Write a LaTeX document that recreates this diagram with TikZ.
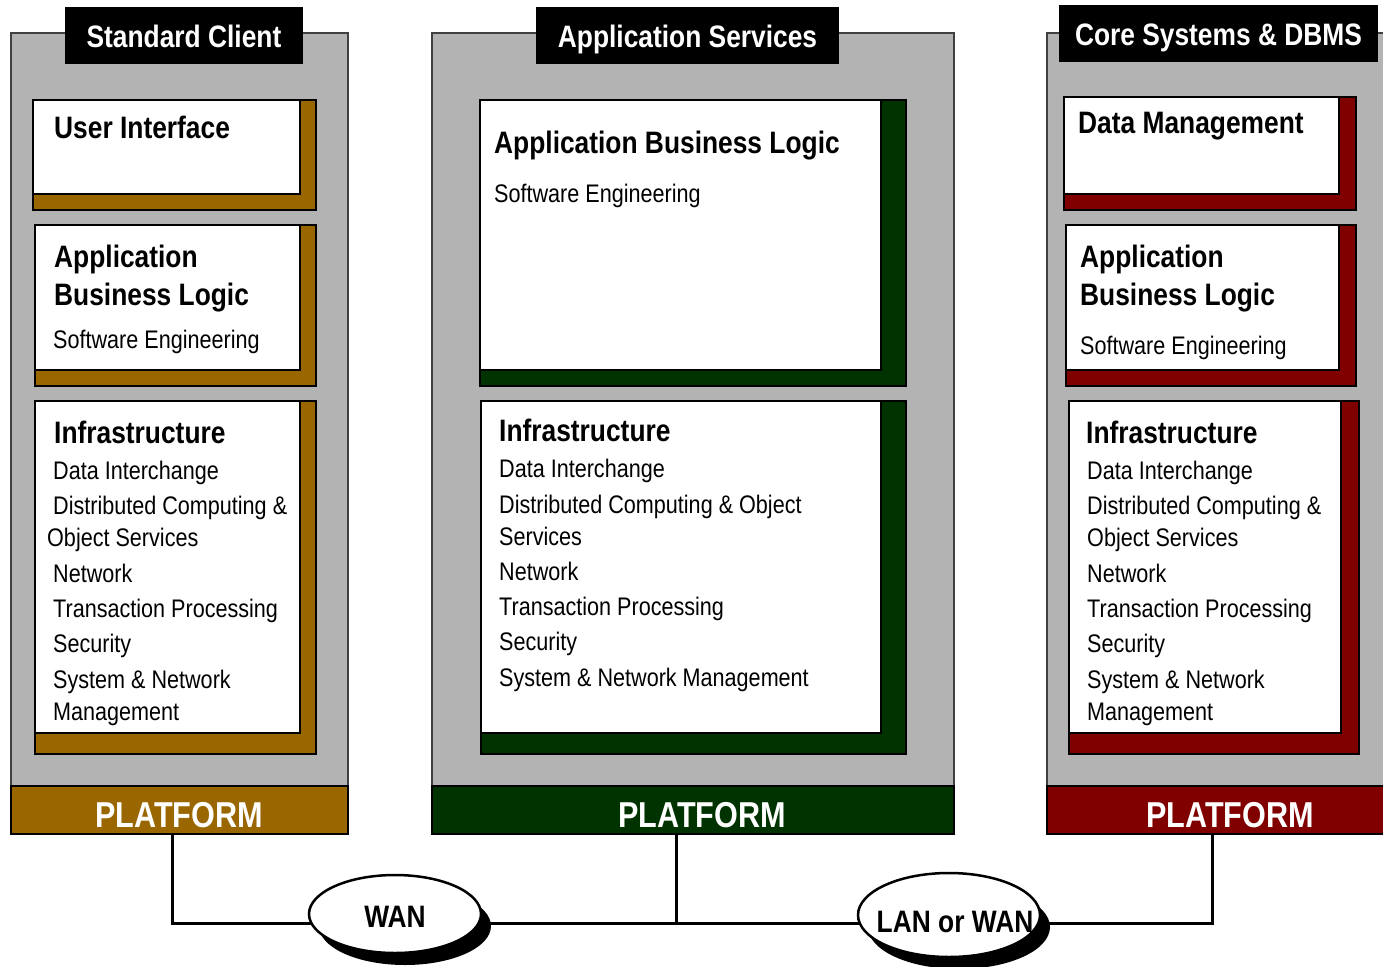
\documentclass[tikz,border=0pt]{standalone}
\usepackage{fontspec}
\setmainfont{Liberation Sans}[FakeStretch=0.85]
\usetikzlibrary{shapes.geometric,shadows}
\pgfdeclarelayer{bg}
\pgfsetlayers{bg,main}
\definecolor{panelgray}{HTML}{B3B3B3}
\definecolor{cbrown}{HTML}{996600}
\definecolor{cgreen}{HTML}{003300}
\definecolor{cred}{HTML}{800000}
\newcommand\hdfont{\fontsize{31}{31}\selectfont\bfseries}
\newcommand\bdfont{\fontsize{25.4}{25.4}\selectfont}
\newcommand\pffont{\fontsize{36}{36}\selectfont\bfseries}
\begin{document}
\begin{tikzpicture}[x=1pt,y=-1pt,
  rect/.style={rectangle,anchor=north west,inner sep=0pt,outer sep=0pt},
  panel/.style={rect,fill=panelgray,draw=black!75,line width=1.5pt},
  header/.style={rect,fill=black},
  shbox/.style={rect,draw=black,line width=2.5pt,fill=#1},
  wbox/.style={rect,draw=black,line width=2pt,fill=white},
  platform/.style={rect,draw=black,line width=2.5pt,fill=#1},
  hd/.style={anchor=base west,inner sep=0pt,font=\hdfont},
  bd/.style={anchor=base west,inner sep=0pt,font=\bdfont},
  title/.style={anchor=base,inner sep=0pt,font=\hdfont,text=white},
  pftext/.style={anchor=base,inner sep=0pt,font=\pffont,text=white},
  cloudtext/.style={anchor=base,inner sep=0pt,font=\hdfont},
  net/.style={line width=3pt},
  cloud/.style={ellipse,draw=black,line width=2.5pt,fill=white,inner sep=0pt,
    drop shadow={shadow xshift=10pt,shadow yshift=-12pt,fill=black,opacity=1}}
]
\useasboundingbox (0,0) rectangle (1383,966);
\clip (0,0) rectangle (1383,966);

% ---------- panels ----------
\node[panel,minimum width=337pt,minimum height=753pt] (pan1) at (11,33) {};
\node[panel,minimum width=522pt,minimum height=753pt] (pan2) at (432,33) {};
\node[panel,minimum width=345pt,minimum height=753pt] (pan3) at (1047,33) {};

% ---------- headers ----------
\node[header,minimum width=238pt,minimum height=57pt] (h1) at (65,7) {};
\node[header,minimum width=303pt,minimum height=57pt] (h2) at (536,7) {};
\node[header,minimum width=319pt,minimum height=57pt] (h3) at (1059,5) {};
\node[title] (ht1) at (184,48) {Standard Client};
\node[title] (ht2) at (687.5,48) {Application Services};
\node[title] (ht3) at (1218.5,46) {Core Systems \& DBMS};

% ---------- left column ----------
\node[shbox=cbrown,minimum width=283pt,minimum height=110pt] (l1s) at (33,100) {};
\node[wbox,minimum width=267pt,minimum height=94pt] (l1w) at (33,100) {};
\node[shbox=cbrown,minimum width=281pt,minimum height=161pt] (l2s) at (35,225) {};
\node[wbox,minimum width=265pt,minimum height=145pt] (l2w) at (35,225) {};
\node[shbox=cbrown,minimum width=281pt,minimum height=353pt] (l3s) at (35,401) {};
\node[wbox,minimum width=265pt,minimum height=332pt] (l3w) at (35,401) {};

\node[hd] (la1) at (54,138) {User Interface};
\node[hd] (la2) at (54,267) {Application};
\node[hd] (la3) at (54,305) {Business Logic};
\node[bd] (la4) at (53,348) {Software Engineering};
\node[hd] (la5) at (54,443) {Infrastructure};
\node[bd] (la6) at (53,479) {Data Interchange};
\node[bd] (la7) at (53,514) {Distributed Computing \&};
\node[bd] (la8) at (47,546) {Object Services};
\node[bd] (la9) at (53,582) {Network};
\node[bd] (la10) at (53,617) {Transaction Processing};
\node[bd] (la11) at (53,652) {Security};
\node[bd] (la12) at (53,688) {System \& Network};
\node[bd] (la13) at (53,720) {Management};

% ---------- middle column ----------
\node[shbox=cgreen,minimum width=426pt,minimum height=286pt] (m1s) at (480,100) {};
\node[wbox,minimum width=401pt,minimum height=270pt] (m1w) at (480,100) {};
\node[shbox=cgreen,minimum width=425pt,minimum height=353pt] (m2s) at (481,401) {};
\node[wbox,minimum width=400pt,minimum height=332pt] (m2w) at (481,401) {};

\node[hd] (ma1) at (494,153) {Application Business Logic};
\node[bd] (ma2) at (494,202) {Software Engineering};
\node[hd] (ma3) at (499,441) {Infrastructure};
\node[bd] (ma4) at (499,477) {Data Interchange};
\node[bd] (ma5) at (499,513) {Distributed Computing \& Object};
\node[bd] (ma6) at (499,545) {Services};
\node[bd] (ma7) at (499,580) {Network};
\node[bd] (ma8) at (499,615) {Transaction Processing};
\node[bd] (ma9) at (499,650) {Security};
\node[bd] (ma10) at (499,686) {System \& Network Management};

% ---------- right column ----------
\node[shbox=cred,minimum width=292pt,minimum height=113pt] (r1s) at (1064,97) {};
\node[wbox,minimum width=275pt,minimum height=97pt] (r1w) at (1064,97) {};
\node[shbox=cred,minimum width=290pt,minimum height=161pt] (r2s) at (1066,225) {};
\node[wbox,minimum width=273pt,minimum height=145pt] (r2w) at (1066,225) {};
\node[shbox=cred,minimum width=290pt,minimum height=353pt] (r3s) at (1069,401) {};
\node[wbox,minimum width=272pt,minimum height=332pt] (r3w) at (1069,401) {};

\node[hd] (ra1) at (1078,133) {Data Management};
\node[hd] (ra2) at (1080,267) {Application};
\node[hd] (ra3) at (1080,305) {Business Logic};
\node[bd] (ra4) at (1080,354) {Software Engineering};
\node[hd] (ra5) at (1086,443) {Infrastructure};
\node[bd] (ra6) at (1087,479) {Data Interchange};
\node[bd] (ra7) at (1087,514) {Distributed Computing \&};
\node[bd] (ra8) at (1087,546) {Object Services};
\node[bd] (ra9) at (1087,582) {Network};
\node[bd] (ra10) at (1087,617) {Transaction Processing};
\node[bd] (ra11) at (1087,652) {Security};
\node[bd] (ra12) at (1087,688) {System \& Network};
\node[bd] (ra13) at (1087,720) {Management};

% ---------- platforms ----------
\node[platform=cbrown,minimum width=337pt,minimum height=48pt] (p1) at (11,786) {};
\node[platform=cgreen,minimum width=522pt,minimum height=48pt] (p2) at (432,786) {};
\node[platform=cred,minimum width=345pt,minimum height=48pt] (p3) at (1047,786) {};
\node[pftext] (pt1) at (179,827) {PLATFORM};
\node[pftext] (pt2) at (702,827) {PLATFORM};
\node[pftext] (pt3) at (1230,827) {PLATFORM};

% ---------- networks ----------
\node[cloud,minimum width=172pt,minimum height=78pt] (wan) at (395,914) {};
\node[cloud,minimum width=182pt,minimum height=84pt] (lan) at (949,915) {};
\node[cloudtext] (want) at (395,927) {WAN};
\node[cloudtext] (lant) at (955,932) {LAN or WAN};

\coordinate (bus) at (0,923);
\begin{pgfonlayer}{bg}
\draw[net] ([xshift=-7.5pt]p1.south) |- (wan.center |- bus);
\draw[net] (wan.center |- bus) -- (lan.center |- bus);
\draw[net] ([xshift=-17pt]p2.south) -- ([xshift=-17pt]p2.south |- bus);
\draw[net] (lan.center |- bus) -| ([xshift=-7.5pt]p3.south);
\end{pgfonlayer}
\end{tikzpicture}
\end{document}
